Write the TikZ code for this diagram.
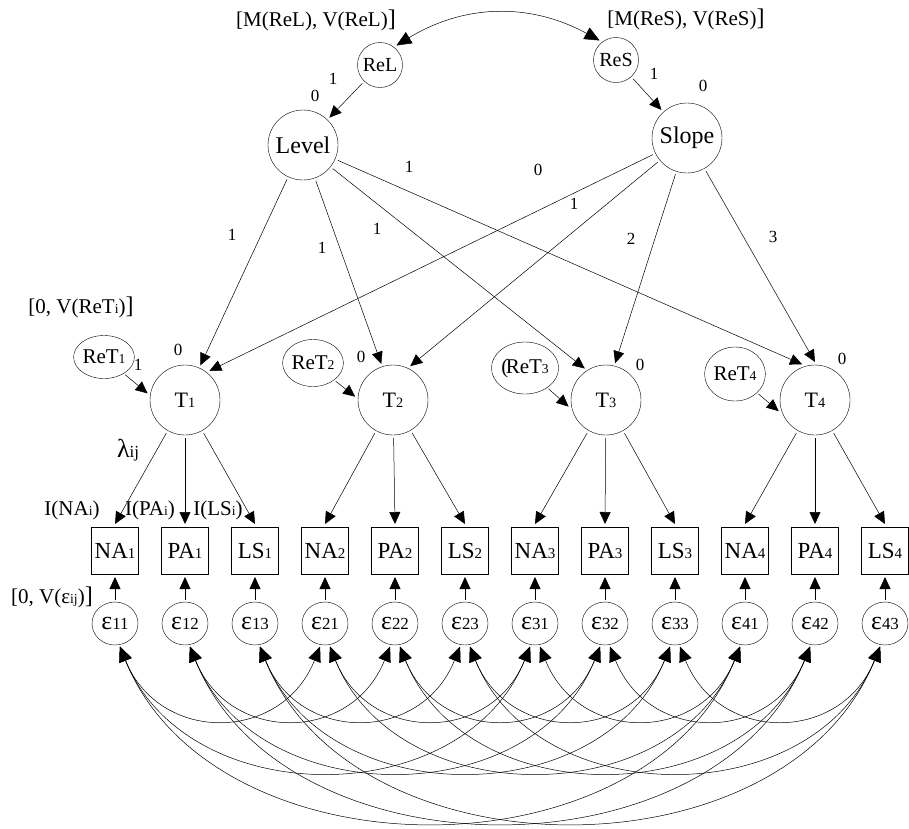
\documentclass[tikz,border=0pt]{standalone}
\usepackage{fontspec}
\setmainfont{Liberation Serif}
\usepackage{graphicx}
\usetikzlibrary{arrows.meta,positioning,shapes.geometric}

\newcommand{\subsc}[1]{\scalebox{0.65}{#1}}
\newcommand{\rbr}{{\fontsize{24}{24}\selectfont ]}}

\begin{document}
\begin{tikzpicture}[
    x=1pt, y=-1pt,
    latent/.style={circle, draw, minimum size=70pt, inner sep=0pt, outer sep=3pt, font=\fontsize{22}{26}\selectfont},
    growth/.style={latent, font=\fontsize{24}{28}\selectfont},
    dist/.style={circle, draw, minimum size=45pt, inner sep=0pt, outer sep=3pt, font=\fontsize{20}{24}\selectfont},
    occ/.style={ellipse, draw, minimum width=58pt, minimum height=46pt, inner sep=0pt, outer sep=2pt, font=\fontsize{21}{24}\selectfont},
    indic/.style={rectangle, draw, minimum size=47pt, inner sep=0pt, outer sep=3pt, font=\fontsize{23}{26}\selectfont},
    err/.style={ellipse, draw, minimum width=46pt, minimum height=43pt, inner sep=0pt, outer sep=2pt, font=\fontsize{26}{28}\selectfont},
    note/.style={font=\fontsize{21}{24}\selectfont, inner sep=0pt},
    coef/.style={font=\fontsize{17}{19}\selectfont, inner sep=0pt},
    arrow/.style={->, >={Triangle[length=12pt,width=11pt]}, line width=0.5pt},
    covar/.style={<->, >={Triangle[length=15pt,width=13pt]}, line width=0.5pt},
    span1/.style={out=-68, in=-112, looseness=1.34},
    span2/.style={out=-68, in=-112, looseness=1.12},
    span3/.style={out=-68, in=-112, looseness=1.04}
]
    \useasboundingbox (0,0) rectangle (909,828);

    % growth part
    \node[dist] (ReL) at (380,65) {ReL};
    \node[dist] (ReS) at (616,60) {ReS};
    \node[growth] (Level) at (303,145) {Level};
    \node[growth] (Slope) at (687,138) {Slope};
    \node[note] (mReL) at (316,20) {[M(ReL), V(ReL)\rbr};
    \node[note] (mReS) at (686,19) {[M(ReS), V(ReS)\rbr};

    \draw[covar] (ReL.50) to[bend left=30] (ReS.130);
    \draw[arrow] (ReL) -- (Level);
    \draw[arrow] (ReS) -- (Slope);
    \node[coef] (cReL) at (333,79) {1};
    \node[coef] (zLevel) at (315,96) {0};
    \node[coef] (cReS) at (654,74) {1};
    \node[coef] (zSlope) at (703,86) {0};

    % occasions
    \node[latent] (T1) at (185,400) {T\subsc{1}};
    \node[latent] (T2) at (393,400) {T\subsc{2}};
    \node[latent] (T3) at (606,400) {T\subsc{3}};
    \node[latent] (T4) at (815,400) {T\subsc{4}};
    \node[occ, minimum height=43pt] (ReT1) at (104,357) {ReT\subsc{1}};
    \node[occ, minimum height=47pt] (ReT2) at (313,363) {ReT\subsc{2}};
    \node[occ, minimum height=52pt] (ReT3) at (525,368) {(\kern-.12em ReT\subsc{3}};
    \node[occ, minimum height=54pt] (ReT4) at (735,374) {ReT\subsc{4}};
    \node[note] (vReT) at (81,307) {[0, V(ReT\subsc{i})\rbr};

    \draw[arrow] (Level) -- (T1.66);
    \draw[arrow] (Level) -- (T2.108);
    \draw[arrow] (Level) -- (T3.124);
    \draw[arrow] (Level) -- (T4.110);
    \draw[arrow] (Slope) -- (T1.50);
    \draw[arrow] (Slope) -- (T2.63);
    \draw[arrow] (Slope) -- (T3.76);
    \draw[arrow] (Slope) -- (T4.90);
    \draw[arrow] (ReT1) -- (T1.170);
    \draw[arrow] (ReT2) -- (T2.175);
    \draw[arrow] (ReT3) -- (T3.190);
    \draw[arrow] (ReT4) -- (T4.197);

    \node[coef] (l1) at (232,235) {1};
    \node[coef] (l2) at (322,248) {1};
    \node[coef] (l3) at (377,229) {1};
    \node[coef] (l4) at (409,167) {1};
    \node[coef] (s1) at (538,170) {0};
    \node[coef] (s2) at (574,204) {1};
    \node[coef] (s3) at (631,239) {2};
    \node[coef] (s4) at (773,237) {3};
    \node[coef] (r1) at (138,365) {1};
    \node[coef] (z1) at (178,350) {0};
    \node[coef] (z2) at (361,357) {0};
    \node[coef] (z3) at (640,365) {0};
    \node[coef] (z4) at (842,359) {0};

    % indicators
    \node[indic] (NA1) at (115,550.5) {NA\subsc{1}};
    \node[indic, right=17pt of NA1] (PA1) {PA\subsc{1}};
    \node[indic, right=17pt of PA1] (LS1) {LS\subsc{1}};
    \node[indic, right=17pt of LS1] (NA2) {NA\subsc{2}};
    \node[indic, right=17pt of NA2] (PA2) {PA\subsc{2}};
    \node[indic, right=17pt of PA2] (LS2) {LS\subsc{2}};
    \node[indic, right=17pt of LS2] (NA3) {NA\subsc{3}};
    \node[indic, right=17pt of NA3] (PA3) {PA\subsc{3}};
    \node[indic, right=17pt of PA3] (LS3) {LS\subsc{3}};
    \node[indic, right=17pt of LS3] (NA4) {NA\subsc{4}};
    \node[indic, right=17pt of NA4] (PA4) {PA\subsc{4}};
    \node[indic, right=17pt of PA4] (LS4) {LS\subsc{4}};

    \draw[arrow] (T1) -- (NA1.north);
    \draw[arrow] (T1) -- (PA1.north);
    \draw[arrow] (T1) -- (LS1.north);
    \draw[arrow] (T2) -- (NA2.north);
    \draw[arrow] (T2) -- (PA2.north);
    \draw[arrow] (T2) -- (LS2.north);
    \draw[arrow] (T3) -- (NA3.north);
    \draw[arrow] (T3) -- (PA3.north);
    \draw[arrow] (T3) -- (LS3.north);
    \draw[arrow] (T4) -- (NA4.north);
    \draw[arrow] (T4) -- (PA4.north);
    \draw[arrow] (T4) -- (LS4.north);

    \node[note, font=\fontsize{26}{28}\selectfont] (lam) at (128,450) {λ\subsc{ij}};
    \node[note] (iNA) at (72,510) {I(NA\subsc{i})};
    \node[note] (iPA) at (150,510) {I(PA\subsc{i})};
    \node[note] (iLS) at (218,510) {I(LS\subsc{i})};
    \node[note] (vErr) at (52,597) {[0, V(ε\subsc{ij})\rbr};

    % errors
    \node[err, below=23pt of NA1] (e11) {ε\subsc{11}};
    \node[err, below=23pt of PA1] (e12) {ε\subsc{12}};
    \node[err, below=23pt of LS1] (e13) {ε\subsc{13}};
    \node[err, below=23pt of NA2] (e21) {ε\subsc{21}};
    \node[err, below=23pt of PA2] (e22) {ε\subsc{22}};
    \node[err, below=23pt of LS2] (e23) {ε\subsc{23}};
    \node[err, below=23pt of NA3] (e31) {ε\subsc{31}};
    \node[err, below=23pt of PA3] (e32) {ε\subsc{32}};
    \node[err, below=23pt of LS3] (e33) {ε\subsc{33}};
    \node[err, below=23pt of NA4] (e41) {ε\subsc{41}};
    \node[err, below=23pt of PA4] (e42) {ε\subsc{42}};
    \node[err, below=23pt of LS4] (e43) {ε\subsc{43}};

    \draw[arrow] (e11) -- (NA1);
    \draw[arrow] (e12) -- (PA1);
    \draw[arrow] (e13) -- (LS1);
    \draw[arrow] (e21) -- (NA2);
    \draw[arrow] (e22) -- (PA2);
    \draw[arrow] (e23) -- (LS2);
    \draw[arrow] (e31) -- (NA3);
    \draw[arrow] (e32) -- (PA3);
    \draw[arrow] (e33) -- (LS3);
    \draw[arrow] (e41) -- (NA4);
    \draw[arrow] (e42) -- (PA4);
    \draw[arrow] (e43) -- (LS4);

    % correlated errors
    \draw[covar] (e11.-78) to[span1] (e21.-102);
    \draw[covar] (e21.-78) to[span1] (e31.-102);
    \draw[covar] (e31.-78) to[span1] (e41.-102);
    \draw[covar] (e11.-78) to[span2] (e31.-102);
    \draw[covar] (e21.-78) to[span2] (e41.-102);
    \draw[covar] (e11.-78) to[span3] (e41.-102);
    \draw[covar] (e12.-78) to[span1] (e22.-102);
    \draw[covar] (e22.-78) to[span1] (e32.-102);
    \draw[covar] (e32.-78) to[span1] (e42.-102);
    \draw[covar] (e12.-78) to[span2] (e32.-102);
    \draw[covar] (e22.-78) to[span2] (e42.-102);
    \draw[covar] (e12.-78) to[span3] (e42.-102);
    \draw[covar] (e13.-78) to[span1] (e23.-102);
    \draw[covar] (e23.-78) to[span1] (e33.-102);
    \draw[covar] (e33.-78) to[span1] (e43.-102);
    \draw[covar] (e13.-78) to[span2] (e33.-102);
    \draw[covar] (e23.-78) to[span2] (e43.-102);
    \draw[covar] (e13.-78) to[span3] (e43.-102);
\end{tikzpicture}
\end{document}
